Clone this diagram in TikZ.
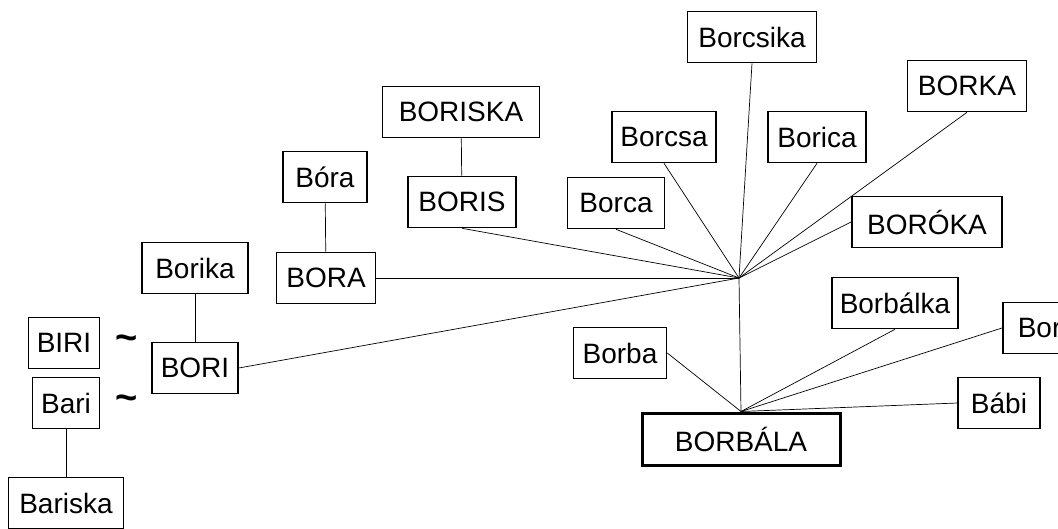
\documentclass[tikz,border=0pt]{standalone}
\usepackage{fontspec}
\setmainfont{Liberation Sans}

\begin{document}
\begin{tikzpicture}[
  x=1pt, y=-1pt,
  name_box/.style={rectangle, draw=black, line width=1.6pt, minimum height=51pt, inner xsep=4pt, align=center, font=\fontsize{28}{32}\selectfont},
  main_box/.style={name_box, line width=3pt, minimum height=52pt},
  link/.style={draw=black, line width=0.7pt},
  alike/.style={inner sep=0pt, font=\fontsize{38}{40}\selectfont\bfseries}
]
\useasboundingbox (0,0) rectangle (1058,528);

% Hub
\coordinate (hub) at (739,278);

% Upper names
\node[name_box, minimum width=129pt] (borcsika) at (752,37) {Borcsika};
\node[name_box, minimum width=119pt] (borka) at (967,86) {BORKA};
\node[name_box, minimum width=104pt] (borcsa) at (664,137) {Borcsa};
\node[name_box, minimum width=98pt] (borica) at (817,137) {Borica};
\node[name_box, minimum width=97pt] (borca) at (616,203) {Borca};
\node[name_box, minimum width=150pt] (boroka) at (927,222) {BORÓKA};
\node[name_box, minimum width=157pt] (boriska) at (461,112) {BORISKA};
\node[name_box, minimum width=108pt] (boris) at (462,202) {BORIS};
\node[name_box, minimum width=84pt] (bora2) at (325,177) {Bóra};
\node[name_box, minimum width=99pt] (bora) at (326,278) {BORA};
\node[name_box, minimum width=106pt] (borika) at (195,268) {Borika};
\node[name_box, minimum width=86pt] (bori) at (195,368) {BORI};

% Left side
\node[name_box, minimum width=71pt] (biri) at (64,343) {BIRI};
\node[name_box, minimum width=67pt] (bari) at (66,403) {Bari};
\node[name_box, minimum width=115pt] (bariska) at (66,503) {Bariska};
\node[alike] (tilde_biri) at (127,343) {\textasciitilde};
\node[alike] (tilde_bari) at (127,403) {\textasciitilde};

% Lower names
\node[main_box, minimum width=198pt] (borbala) at (741,439) {BORBÁLA};
\node[name_box, minimum width=93pt] (borba) at (620,353) {Borba};
\node[name_box, minimum width=126pt] (borbalka) at (895,303) {Borbálka};
\node[name_box, anchor=west, text width=100pt, align=left, inner xsep=15pt] (bor) at (1002,328) {Bor};
\node[name_box, minimum width=82pt] (babi) at (999,403) {Bábi};

% Links to hub
\draw[link] (borcsika.south) -- (hub);
\draw[link] (borka.south) -- (hub);
\draw[link] (borcsa.south) -- (hub);
\draw[link] (borica.south) -- (hub);
\draw[link] (borca.south) -- (hub);
\draw[link] (boroka.west) -- (hub);
\draw[link] (boris.south) -- (hub);
\draw[link] (bora.east) -- (hub);
\draw[link] (bori.east) -- (hub);
\draw[link] (hub) -- (borbala.north);

% Short links
\draw[link] (boriska) -- (boris);
\draw[link] (bora2) -- (bora);
\draw[link] (borika) -- (bori);
\draw[link] (bari) -- (bariska);

% Links to BORBALA
\draw[link] (borba.east) -- (borbala.north);
\draw[link] (borbalka.south) -- (borbala.north);
\draw[link] (bor.west) -- (borbala.north);
\draw[link] (babi.west) -- (borbala.north);

\end{tikzpicture}
\end{document}
